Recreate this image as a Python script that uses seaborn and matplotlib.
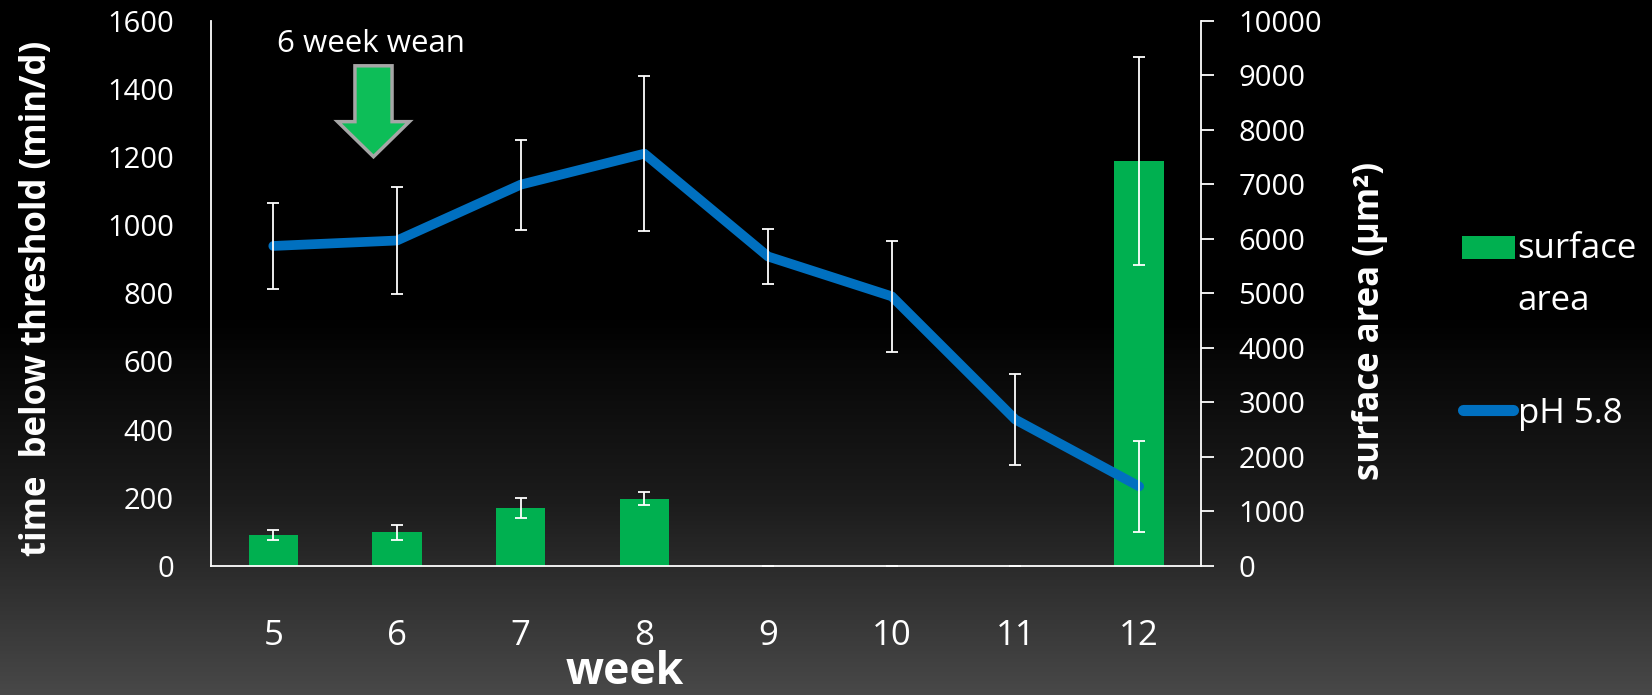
import numpy as np
import matplotlib
matplotlib.use('Agg')
import matplotlib.pyplot as plt
import seaborn as sns
from matplotlib.patches import FancyArrow, Rectangle
from matplotlib.lines import Line2D
from matplotlib.colors import LinearSegmentedColormap

# values
weeks = ['5', '6', '7', '8', '9', '10', '11', '12']
surface_area = [562, 610, 1057, 1233, 0, 0, 0, 7430]      # µm², right axis
surface_err = [85, 140, 180, 115, 0, 0, 0, 1908]
time_below = [939, 955, 1119, 1210, 908, 791, 429, 233]    # min/d, left axis
time_err = [125, 158, 132, 227, 81, 163, 134, 134]

GREEN = '#00B050'
BLUE = '#0070C0'

sns.set_theme(style='ticks', rc={
    'axes.facecolor': 'none',
    'figure.facecolor': 'black',
    'axes.edgecolor': 'white',
    'axes.labelcolor': 'white',
    'text.color': 'white',
    'xtick.color': 'white',
    'ytick.color': 'white',
})
plt.rcParams['font.family'] = ['Open Sans', 'DejaVu Sans']

fig = plt.figure(figsize=(16.52, 6.95), dpi=100)

# black -> grey background gradient
bg = fig.add_axes([0, 0, 1, 1], zorder=-10)
yy = np.linspace(0, 1, 400)
grad = np.clip((yy - 0.45) / 0.55, 0, 1)[:, None]
cmap = LinearSegmentedColormap.from_list('bg', ['#000000', '#1c1c1c', '#484848'])
bg.imshow(grad, aspect='auto', cmap=cmap, extent=[0, 1, 0, 1], vmin=0, vmax=1)
bg.axis('off')

ax = fig.add_axes([0.128, 0.186, 0.599, 0.784])
ax2 = ax.twinx()
pos = np.arange(len(weeks))

# bars: surface area on the right axis
sns.barplot(x=weeks, y=surface_area, ax=ax2, color=GREEN, width=0.4,
            saturation=1, errorbar=None, edgecolor=GREEN, linewidth=0)
ax2.errorbar(pos, surface_area, yerr=surface_err, fmt='none', ecolor='white',
             elinewidth=1.3, capsize=4, capthick=1.3)

# line: time below threshold on the left axis
sns.lineplot(x=pos, y=time_below, ax=ax, color=BLUE, lw=7,
             solid_capstyle='round', legend=False)
ax.errorbar(pos, time_below, yerr=time_err, fmt='none', ecolor='white',
            elinewidth=1.3, capsize=4, capthick=1.3, zorder=5)

ax.set_zorder(ax2.get_zorder() + 1)
ax.patch.set_visible(False)

ax.set_xlim(-0.5, len(weeks) - 0.5)
ax.set_ylim(0, 1600)
ax2.set_ylim(0, 10000)
ax.set_yticks(range(0, 1601, 200))
ax2.set_yticks(range(0, 10001, 1000))
ax.set_xticks(pos)
ax.set_xticklabels(weeks)

ax.tick_params(axis='y', length=0, pad=27, labelsize=21)
ax.tick_params(axis='x', length=0, pad=38.5, labelsize=25)
ax2.tick_params(axis='y', direction='out', length=9, width=1.3, pad=18, labelsize=21)

for s in ['top', 'right']:
    ax.spines[s].set_visible(False)
for s in ['top', 'left', 'bottom']:
    ax2.spines[s].set_visible(False)
ax.spines['left'].set_linewidth(1.3)
ax.spines['bottom'].set_linewidth(1.3)
ax2.spines['right'].set_linewidth(1.3)

ax.set_xlabel('')
ax.set_ylabel('time  below threshold (min/d)', fontsize=25, fontweight='bold')
ax.yaxis.set_label_coords(-0.158, 0.49)
ax2.set_ylabel('surface area (µm²)', fontsize=25, fontweight='bold')
ax2.yaxis.set_label_coords(1.153, 0.45)

fig.text(0.378, 0.0, 'week', ha='center', va='bottom', fontsize=32,
         fontweight='bold')

# wean annotation
ax.text(0.79, 1532, '6 week wean', ha='center', va='center', fontsize=22.5)
ax.add_patch(FancyArrow(0.81, 1468, 0, -267, width=0.30, head_width=0.58,
                        head_length=103, length_includes_head=True,
                        facecolor='#0DBE58', edgecolor='#A6A6A6', lw=2.5,
                        zorder=6))

# legend, laid out by hand like the original slide
fig.patches.append(Rectangle((0.885, 0.627), 0.032, 0.033, transform=fig.transFigure,
                             facecolor=GREEN, edgecolor='none'))
fig.text(0.9187, 0.6288, 'surface', fontsize=25, va='baseline')
fig.text(0.9187, 0.5545, 'area', fontsize=25, va='baseline')
fig.lines.append(Line2D([0.8855, 0.9160], [0.4095, 0.4095], transform=fig.transFigure,
                        color=BLUE, lw=8, solid_capstyle='round'))
fig.text(0.9187, 0.391, 'pH 5.8', fontsize=25, va='baseline')

fig.savefig('out.png', dpi=100, facecolor='black')
